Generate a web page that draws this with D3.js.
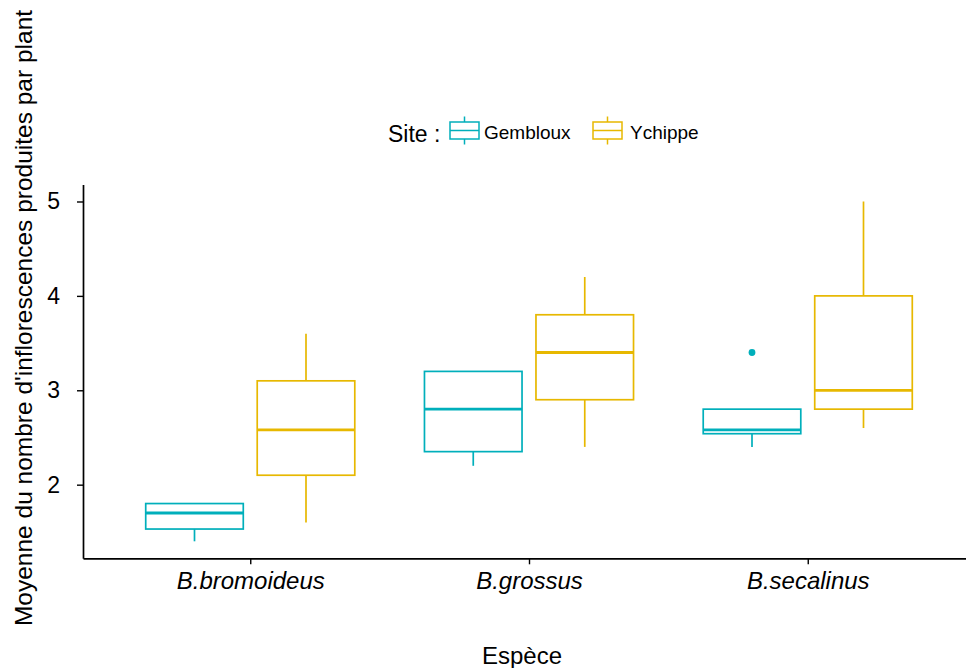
<!DOCTYPE html>
<html>
<head>
<meta charset="utf-8">
<script src="https://cdn.jsdelivr.net/npm/d3@7"></script>
<style>
  body { margin: 0; background: #fff; }
  text { font-family: "Liberation Sans", Arial, sans-serif; fill: #000; }
</style>
</head>
<body>
<svg width="966" height="668"></svg>
<script>
// data
var categories = ['B.bromoideus', 'B.grossus', 'B.secalinus'];
var sites = ['Gembloux', 'Ychippe'];
var siteColors = ['#00AFBB', '#E7B800'];
// [lower whisker, Q1, median, Q3, upper whisker] per category
var gemblouxStats = [
  [1.4, 1.53, 1.7, 1.8, 1.8],
  [2.2, 2.35, 2.8, 3.2, 3.2],
  [2.4, 2.54, 2.58, 2.8, 2.8]
];
var ychippeStats = [
  [1.6, 2.1, 2.58, 3.1, 3.6],
  [2.4, 2.9, 3.4, 3.8, 4.2],
  [2.6, 2.8, 3.0, 4.0, 5.0]
];
var outliers = [{site: 'Gembloux', cat: 'B.secalinus', value: 3.4}];
var yTicks = [2, 3, 4, 5];

var svg = d3.select('svg'),
  mLeft = 83, mRight = 975, mTop = 184.5, mBottom = 558.3;

var x = d3.scalePoint().domain(categories).range([mLeft, mRight]).padding(0.6);
var step = x.step();
var xSite = d3.scaleBand().domain(sites)
  .range([-0.4 * step, 0.4 * step])
  .paddingInner(0.125).paddingOuter(0.0625);
var color = d3.scaleOrdinal().domain(sites).range(siteColors);
var y = d3.scaleLinear().domain([1.22, 5.18]).range([mBottom, mTop]);

// build box rows
var boxes = [];
categories.forEach(function(c, i) {
  [gemblouxStats, ychippeStats].forEach(function(st, j) {
    var s = st[i];
    boxes.push({cat: c, site: sites[j], lo: s[0], q1: s[1], med: s[2], q3: s[3], hi: s[4]});
  });
});

var g = svg.append('g');
var bw = xSite.bandwidth();
var lw = 1.7;

var box = g.selectAll('.box').data(boxes).enter().append('g')
  .attr('class', 'box')
  .attr('transform', function(d) { return 'translate(' + (x(d.cat) + xSite(d.site)) + ',0)'; })
  .attr('stroke', function(d) { return color(d.site); })
  .attr('fill', 'none');

// whiskers
box.append('line')
  .attr('x1', bw / 2).attr('x2', bw / 2)
  .attr('y1', function(d) { return y(d.hi); })
  .attr('y2', function(d) { return y(d.q3); })
  .attr('stroke-width', lw);
box.append('line')
  .attr('x1', bw / 2).attr('x2', bw / 2)
  .attr('y1', function(d) { return y(d.q1); })
  .attr('y2', function(d) { return y(d.lo); })
  .attr('stroke-width', lw);
box.append('rect')
  .attr('x', 0).attr('width', bw)
  .attr('y', function(d) { return y(d.q3); })
  .attr('height', function(d) { return y(d.q1) - y(d.q3); })
  .attr('fill', '#fff')
  .attr('stroke-width', lw);
box.append('line')
  .attr('x1', 0).attr('x2', bw)
  .attr('y1', function(d) { return y(d.med); })
  .attr('y2', function(d) { return y(d.med); })
  .attr('stroke-width', 2.8);

g.selectAll('.outlier').data(outliers).enter().append('circle')
  .attr('cx', function(d) { return x(d.cat) + xSite(d.site) + bw / 2; })
  .attr('cy', function(d) { return y(d.value); })
  .attr('r', 3.4)
  .attr('fill', function(d) { return color(d.site); });

// axes
var yAxis = svg.append('g')
  .attr('transform', 'translate(' + mLeft + ',0)')
  .call(d3.axisLeft(y).tickValues(yTicks).tickFormat(d3.format('d'))
    .tickSize(6).tickSizeOuter(0).tickPadding(17));
var xAxis = svg.append('g')
  .attr('transform', 'translate(0,' + mBottom + ')')
  .call(d3.axisBottom(x).tickSize(6).tickSizeOuter(0).tickPadding(8));

[yAxis, xAxis].forEach(function(a) {
  a.select('.domain').attr('stroke', '#000').attr('stroke-width', 1.7);
  a.selectAll('.tick line').attr('stroke', '#000').attr('stroke-width', 1.4);
  a.selectAll('text').attr('font-family', '"Liberation Sans", Arial, sans-serif').attr('fill', '#000');
});
yAxis.selectAll('text').attr('font-size', 23);
xAxis.selectAll('text').attr('font-size', 24).attr('font-style', 'italic');

// axis titles
svg.append('text')
  .attr('x', 522).attr('y', 664)
  .attr('text-anchor', 'middle').attr('font-size', 24)
  .text('Espèce');
svg.append('text')
  .attr('transform', 'translate(32,318) rotate(-90)')
  .attr('text-anchor', 'middle').attr('font-size', 24.5)
  .text("Moyenne du nombre d'inflorescences produites par plant");

// legend
var legend = svg.append('g');
legend.append('text').attr('x', 388).attr('y', 141.5).attr('font-size', 23).text('Site :');
var keyX = [450, 593];
var key = legend.selectAll('.key').data(sites).enter().append('g')
  .attr('class', 'key')
  .attr('transform', function(d, i) { return 'translate(' + keyX[i] + ',0)'; });
key.append('line').attr('x1', 14.5).attr('x2', 14.5).attr('y1', 116.5).attr('y2', 144.5)
  .attr('stroke', function(d) { return color(d); }).attr('stroke-width', 1.5);
key.append('rect').attr('x', 0).attr('y', 122).attr('width', 29).attr('height', 17)
  .attr('fill', '#fff').attr('stroke', function(d) { return color(d); }).attr('stroke-width', 1.5);
key.append('line').attr('x1', 0).attr('x2', 29).attr('y1', 130.5).attr('y2', 130.5)
  .attr('stroke', function(d) { return color(d); }).attr('stroke-width', 1.5);
key.append('text').attr('x', function(d, i) { return i === 0 ? 34 : 37; }).attr('y', 138.5)
  .attr('font-size', 19).text(function(d) { return d; });
</script>
</body>
</html>
